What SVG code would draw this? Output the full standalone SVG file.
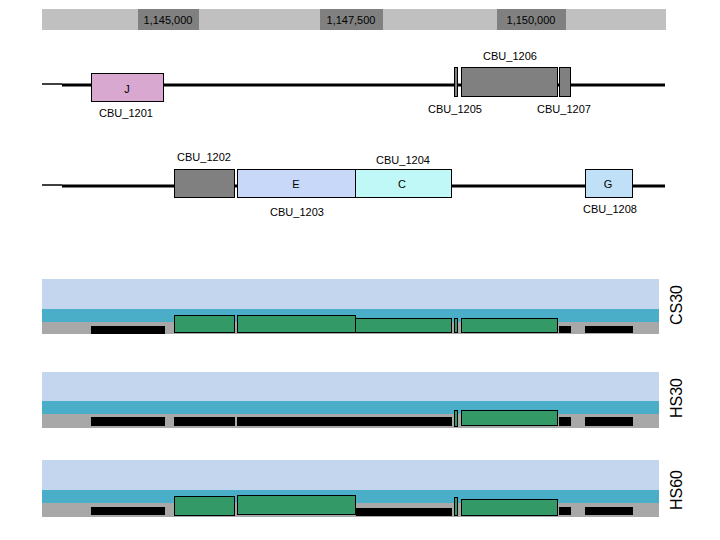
<svg xmlns="http://www.w3.org/2000/svg" width="720" height="540" viewBox="0 0 720 540">
<style>
text{font-family:"Liberation Sans",Arial,sans-serif;fill:#000}
.lbl{font-size:11px;text-anchor:middle}
.gene{stroke:#000;stroke-width:1}
.grey{fill:#808080}
.trk{stroke:#000;stroke-width:1;fill:#339966}
.blk{fill:#000}
.side{font-size:16px;text-anchor:middle}
</style>
<rect width="720" height="540" fill="#fff"/>
<g id="scale">
<rect x="42" y="9" width="624" height="21" fill="#c0c0c0"/>
<rect x="138" y="9" width="61" height="21" fill="#808080"/>
<rect x="320" y="9" width="63" height="21" fill="#808080"/>
<rect x="497" y="9" width="69" height="21" fill="#808080"/>
<text class="lbl" x="168" y="23.5">1,145,000</text>
<text class="lbl" x="351" y="23.5">1,147,500</text>
<text class="lbl" x="531" y="23.5">1,150,000</text>
</g>
<g id="connectors">
<line x1="42" y1="84" x2="62" y2="84" stroke="#000" stroke-width="1.5"/>
<line x1="62" y1="85" x2="665" y2="85" stroke="#000" stroke-width="3"/>
<line x1="42" y1="185" x2="62" y2="185" stroke="#000" stroke-width="1.5"/>
<line x1="62" y1="186" x2="665" y2="186" stroke="#000" stroke-width="3"/>
</g>
<g id="CBU_1201">
<rect class="gene" x="91.5" y="73.5" width="72" height="28" fill="#d8a8d0"/>
<text class="lbl" x="127" y="93" font-size="12">J</text>
<text class="lbl" x="126" y="117">CBU_1201</text>
</g>
<g id="CBU_1205">
<rect class="gene grey" x="454.5" y="67.5" width="3" height="29"/>
<text class="lbl" x="455" y="113">CBU_1205</text>
</g>
<g id="CBU_1206">
<rect class="gene grey" x="461.5" y="67.5" width="96" height="29"/>
<text class="lbl" x="510" y="60">CBU_1206</text>
</g>
<g id="CBU_1207">
<rect class="gene grey" x="559.5" y="67.5" width="11" height="29"/>
<text class="lbl" x="564" y="113">CBU_1207</text>
</g>
<g id="CBU_1202">
<rect class="gene grey" x="174.5" y="169.5" width="60" height="28"/>
<text class="lbl" x="204" y="161">CBU_1202</text>
</g>
<g id="CBU_1203">
<rect class="gene" x="237.5" y="169.5" width="118" height="28" fill="#c8d8f8"/>
<text class="lbl" x="296" y="188" font-size="12">E</text>
<text class="lbl" x="297" y="216">CBU_1203</text>
</g>
<g id="CBU_1204">
<rect class="gene" x="355.5" y="169.5" width="96" height="28" fill="#c0f8f8"/>
<text class="lbl" x="402" y="188" font-size="12">C</text>
<text class="lbl" x="403" y="164">CBU_1204</text>
</g>
<g id="CBU_1208">
<rect class="gene" x="585.5" y="169.5" width="47" height="28" fill="#c0e0f8"/>
<text class="lbl" x="608" y="188" font-size="12">G</text>
<text class="lbl" x="610" y="213">CBU_1208</text>
</g>
<g id="CS30">
<rect x="42" y="279" width="617" height="30" fill="#c4d6ee"/>
<rect x="42" y="309" width="617" height="13" fill="#4aaec8"/>
<rect x="42" y="322" width="617" height="12" fill="#a8a8a8"/>
<rect class="blk" x="91" y="326" width="74" height="8"/>
<rect class="trk" x="174.5" y="315.5" width="60" height="17"/>
<rect class="trk" x="237.5" y="315.5" width="118" height="17"/>
<rect class="trk" x="355.5" y="318.5" width="96" height="14"/>
<rect class="trk" x="454.5" y="318.5" width="3" height="14"/>
<rect class="trk" x="461.5" y="318.5" width="96" height="14"/>
<rect class="blk" x="559" y="326" width="12" height="7"/>
<rect class="blk" x="585" y="326" width="48" height="7"/>
<text class="side" transform="translate(682,305) rotate(-90)">CS30</text>
</g>
<g id="HS30">
<rect x="42" y="372" width="617" height="29" fill="#c4d6ee"/>
<rect x="42" y="401" width="617" height="13" fill="#4aaec8"/>
<rect x="42" y="414" width="617" height="14" fill="#a8a8a8"/>
<rect class="blk" x="91" y="417" width="74" height="9"/>
<rect class="blk" x="174" y="417" width="61" height="9"/>
<rect class="blk" x="237" y="417" width="215" height="9"/>
<rect class="trk" x="454.5" y="410.5" width="3" height="16"/>
<rect class="trk" x="461.5" y="410.5" width="96" height="15"/>
<rect class="blk" x="559" y="417" width="12" height="9"/>
<rect class="blk" x="585" y="417" width="48" height="9"/>
<text class="side" transform="translate(682,398) rotate(-90)">HS30</text>
</g>
<g id="HS60">
<rect x="42" y="460" width="617" height="30" fill="#c4d6ee"/>
<rect x="42" y="490" width="617" height="13" fill="#4aaec8"/>
<rect x="42" y="503" width="617" height="14" fill="#a8a8a8"/>
<rect class="blk" x="91" y="507" width="74" height="8"/>
<rect class="trk" x="174.5" y="496.5" width="60" height="19"/>
<rect class="trk" x="237.5" y="495.5" width="118" height="19"/>
<rect class="blk" x="356" y="508" width="96" height="8"/>
<rect class="trk" x="454.5" y="497.5" width="3" height="18"/>
<rect class="trk" x="461.5" y="499.5" width="96" height="16"/>
<rect class="blk" x="559" y="507" width="12" height="8"/>
<rect class="blk" x="585" y="507" width="48" height="8"/>
<text class="side" transform="translate(682,490) rotate(-90)">HS60</text>
</g>
</svg>
